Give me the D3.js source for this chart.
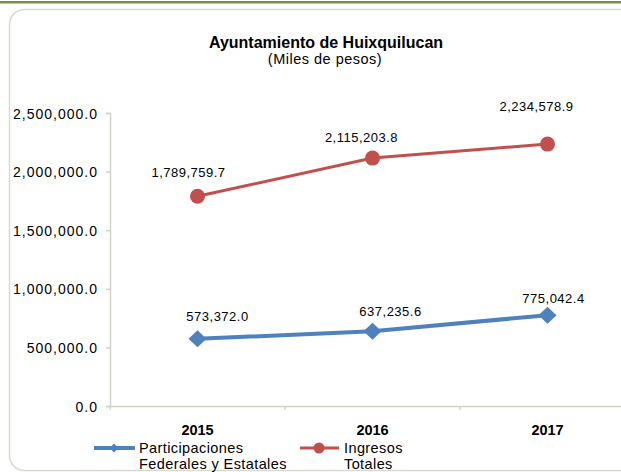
<!DOCTYPE html>
<html><head><meta charset="utf-8">
<script src="https://cdn.jsdelivr.net/npm/d3@7/dist/d3.min.js"></script>
<style>
html,body{margin:0;padding:0;background:#fff;}
svg{display:block;font-family:"Liberation Sans",Arial,sans-serif;}
</style></head>
<body>
<svg id="chart" width="621" height="472"></svg>
<script>
const categories = ["2015", "2016", "2017"];
const participaciones = [573372.0, 637235.6, 775042.4];
const ingresos = [1789759.7, 2115203.8, 2234578.9];
const yTicks = [0, 500000, 1000000, 1500000, 2000000, 2500000];
const seriesNames = [["Participaciones", "Federales y Estatales"], ["Ingresos", "Totales"]];
const titleText = "Ayuntamiento de Huixquilucan";
const subtitleText = "(Miles de pesos)";

// label offsets (styling)
const redLabelOff = [[-9, -19], [-11, -16], [-11, -33]];
const blueLabelOff = [[20, -18], [18, -15], [6, -12]];

const svg = d3.select("#chart");
const fmt = d3.format(",.1f");

// top green rule
svg.append("rect").attr("x", 0).attr("y", 1).attr("width", 621).attr("height", 2.5).attr("fill", "#77933C");

// chart frame
svg.append("rect").attr("x", 9.5).attr("y", 9.5).attr("width", 660).attr("height", 461)
  .attr("rx", 15).attr("ry", 15).attr("fill", "#fff").attr("stroke", "#D9D9CC").attr("stroke-width", 1.5);

// titles
svg.append("text").attr("x", 326).attr("y", 48).attr("text-anchor", "middle")
  .attr("font-size", 16).attr("font-weight", "bold").attr("fill", "#000").text(titleText);
svg.append("text").attr("x", 325).attr("y", 64).attr("text-anchor", "middle")
  .attr("font-size", 14.5).attr("fill", "#000").style("letter-spacing", "0.5px").text(subtitleText);

const x = d3.scaleBand().domain(categories).range([110, 635]).padding(0);
const y = d3.scaleLinear().domain([0, 2500000]).range([406, 113]);
const cx = d => x(d) + x.bandwidth() / 2;
const axisColor = "#D3D3C3";

// Y axis
const yAxis = svg.append("g").attr("transform", "translate(110,0)")
  .call(d3.axisLeft(y).tickValues(yTicks).tickSize(4).tickPadding(8).tickFormat(d => fmt(d)));
yAxis.select(".domain").attr("stroke", axisColor).attr("stroke-width", 1.5);
yAxis.selectAll(".tick line").attr("stroke", axisColor).attr("stroke-width", 1.5);
yAxis.selectAll(".tick text").attr("font-size", 14).attr("fill", "#000")
  .attr("font-family", "Liberation Sans, Arial, sans-serif").style("letter-spacing", "1px").attr("dy", "0.36em");

// X axis
const xAxis = svg.append("g").attr("transform", "translate(0,406)")
  .call(d3.axisBottom(x).tickSize(0).tickPadding(19));
xAxis.select(".domain").attr("stroke", axisColor).attr("stroke-width", 1.5);
xAxis.selectAll(".tick text").attr("font-size", 14.5).attr("font-weight", "bold").attr("fill", "#000")
  .attr("font-family", "Liberation Sans, Arial, sans-serif");
const bounds = categories.map(c => x(c)).concat([x(categories[categories.length - 1]) + x.bandwidth()]);
svg.append("g").selectAll("line").data(bounds).join("line")
  .attr("x1", d => d).attr("x2", d => d).attr("y1", 406).attr("y2", 410)
  .attr("stroke", axisColor).attr("stroke-width", 1.5);

const line = d3.line().x((d, i) => cx(categories[i])).y(d => y(d));

// red series
svg.append("path").datum(ingresos).attr("d", line).attr("fill", "none")
  .attr("stroke", "#C0504D").attr("stroke-width", 3);
svg.append("g").selectAll("circle").data(ingresos).join("circle")
  .attr("cx", (d, i) => cx(categories[i])).attr("cy", d => y(d)).attr("r", 7.5).attr("fill", "#C0504D");

// blue series
svg.append("path").datum(participaciones).attr("d", line).attr("fill", "none")
  .attr("stroke", "#4F81BD").attr("stroke-width", 4);
const diamond = (px, py, w, h) => `M${px - w},${py}L${px},${py - h}L${px + w},${py}L${px},${py + h}Z`;
svg.append("g").selectAll("path").data(participaciones).join("path")
  .attr("d", (d, i) => diamond(cx(categories[i]), y(d), 9, 8.5)).attr("fill", "#4F81BD");

// data labels
svg.append("g").selectAll("text").data(ingresos).join("text")
  .attr("x", (d, i) => cx(categories[i]) + redLabelOff[i][0])
  .attr("y", (d, i) => y(d) + redLabelOff[i][1])
  .attr("text-anchor", "middle").attr("font-size", 13).style("letter-spacing", "0.5px")
  .attr("fill", "#000").text(d => fmt(d));
svg.append("g").selectAll("text").data(participaciones).join("text")
  .attr("x", (d, i) => cx(categories[i]) + blueLabelOff[i][0])
  .attr("y", (d, i) => y(d) + blueLabelOff[i][1])
  .attr("text-anchor", "middle").attr("font-size", 13).style("letter-spacing", "0.5px")
  .attr("fill", "#000").text(d => fmt(d));

// legend
const lg = svg.append("g");
lg.append("line").attr("x1", 94).attr("x2", 135).attr("y1", 448).attr("y2", 448)
  .attr("stroke", "#4F81BD").attr("stroke-width", 4);
lg.append("path").attr("d", diamond(114, 448, 4.5, 4.5)).attr("fill", "#4F81BD");
lg.append("text").attr("x", 139).attr("y", 453).attr("font-size", 14.5).style("letter-spacing", "0.4px")
  .selectAll("tspan").data(seriesNames[0]).join("tspan")
  .attr("x", 139).attr("dy", (d, i) => i === 0 ? 0 : 15.5).text(d => d);
lg.append("line").attr("x1", 300).attr("x2", 339).attr("y1", 448).attr("y2", 448)
  .attr("stroke", "#C0504D").attr("stroke-width", 3);
lg.append("circle").attr("cx", 319).attr("cy", 448).attr("r", 5.5).attr("fill", "#C0504D");
lg.append("text").attr("x", 344).attr("y", 453).attr("font-size", 14.5).style("letter-spacing", "0.4px")
  .selectAll("tspan").data(seriesNames[1]).join("tspan")
  .attr("x", 344).attr("dy", (d, i) => i === 0 ? 0 : 15.5).text(d => d);
</script>
</body></html>
